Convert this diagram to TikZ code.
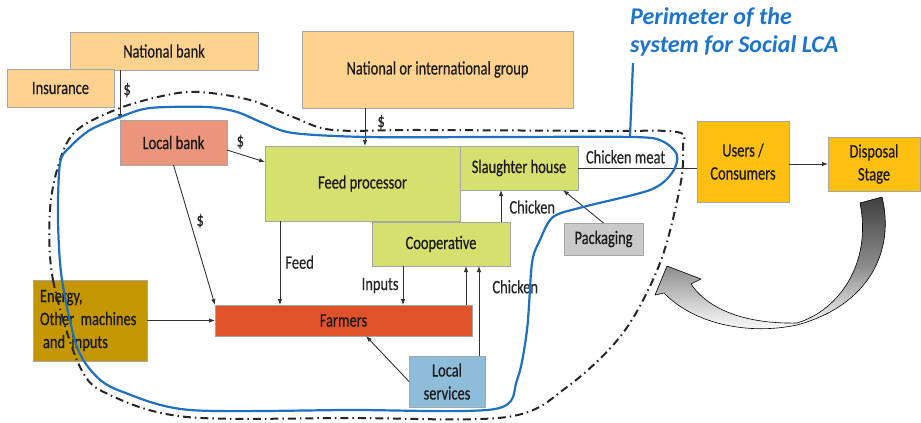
\documentclass[tikz,border=0pt]{standalone}
\usepackage{fontspec}
\setmainfont{Carlito}[FakeStretch=0.76, FakeBold=0.4]
\newfontfamily\titlefont{Carlito}
\usetikzlibrary{positioning,arrows.meta}

\definecolor{bankorange}{HTML}{FDD28F}
\definecolor{banksalmon}{HTML}{EA957C}
\definecolor{procgreen}{HTML}{D5E16F}
\definecolor{farmred}{HTML}{E0532A}
\definecolor{energygold}{HTML}{C49600}
\definecolor{servblue}{HTML}{8FBCD9}
\definecolor{packgray}{HTML}{C9C9C9}
\definecolor{userorange}{HTML}{FDC010}
\definecolor{perimblue}{HTML}{1F70C1}
\definecolor{titleblue}{HTML}{1C75CC}

\pgfdeclareverticalshading{recycle}{100bp}{color(0bp)=(white); color(25bp)=(white);
  color(32bp)=(black!10); color(50bp)=(black!45); color(75bp)=(black!75); color(100bp)=(black!75)}

\begin{document}
\begin{tikzpicture}[x=1pt, y=-1pt,
    font=\fontsize{19}{23}\selectfont,
     box/.style = {draw=gray!70, line width=0.8pt, align=center,
                   inner sep=2pt, outer sep=0pt, text=black!90},
     lbl/.style = {inner sep=2pt, text=black!85},
   arrow/.style = {line width=0.9pt, draw=black!80,
                   -{Latex[length=6pt,width=4.5pt]}},
    link/.style = {line width=0.9pt, draw=black!80},
   perim/.style = {line width=2.2pt, draw=perimblue},
  border/.style = {line width=2pt, draw=black!85,
                   dash pattern=on 8pt off 4pt on 1.5pt off 4pt},
bigarrow/.style = {draw=black, line width=0.6pt, shading=recycle}
                    ]
\useasboundingbox (0,0) rectangle (921,423);
% the nodes at the top
\node (natbank) [box, fill=bankorange, minimum width=188pt, minimum height=38pt]
      at (164,51) {National bank};
\node (insur) [box, fill=bankorange, minimum width=107pt, minimum height=38pt]
      at (60.5,88) {Insurance};
\node (natgroup) [box, fill=bankorange, minimum width=271pt, minimum height=77pt]
      at (437.5,69.5) {National or international group};
% the nodes inside the perimeter
\node (localbank) [box, fill=banksalmon, minimum width=107pt, minimum height=45pt]
      at (173.5,142.5) {Local bank};
\node (feedproc) [box, fill=procgreen, minimum width=195pt, minimum height=75pt]
      at (362.5,183.5) {Feed processor};
\node (slaughter) [box, fill=procgreen, minimum width=118pt, minimum height=44pt,
      below right=0pt and 0pt of feedproc.north east] {Slaughter house};
\node (coop) [box, fill=procgreen, minimum width=138pt, minimum height=44pt,
      below right=1pt and 107pt of feedproc.south west] {Cooperative};
\node (farmers) [box, fill=farmred, minimum width=257pt, minimum height=31pt]
      at (343.5,320.5) {Farmers};
\node (energy) [box, fill=energygold, minimum width=114pt, minimum height=81pt,
      text width=100pt, align=left] at (90,320.5)
                {Energy,\\Other machines\\\hspace{3pt}and inputs};
\node (localserv) [box, fill=servblue, minimum width=76pt, minimum height=51pt]
      at (447,381.5) {Local\\services};
\node (packaging) [box, fill=packgray, minimum width=79pt, minimum height=32pt]
      at (603.5,239) {Packaging};
% the nodes to the right
\node (users) [box, fill=userorange, minimum width=92pt, minimum height=81pt]
      at (743,161.5) {Users /\\Consumers};
\node (disposal) [box, fill=userorange, minimum width=92pt, minimum height=54pt]
      at (874,164) {Disposal\\Stage};
% the flows
\draw[arrow] ([xshift=50pt]natbank.south west) coordinate (nb)
             -- node[lbl, right=1pt, pos=0.4] {\$} (nb |- localbank.north);
\draw[arrow] ([yshift=-7.5pt]localbank.east)
             -- node[lbl, above=3pt, pos=0.35] {\$} ([yshift=21.5pt]feedproc.west);
\draw[arrow] (localbank.south)
             -- node[lbl, right=4pt, pos=0.4] {\$} (farmers.north west);
\draw[arrow] ([xshift=-72.5pt]natgroup.south) coordinate (ng)
             -- node[lbl, right=10pt, pos=0.37] {\$} (ng |- feedproc.north);
\draw[arrow] ([xshift=15pt]feedproc.south west) coordinate (fp)
             -- node[lbl, right=3pt, pos=0.49] {Feed} (fp |- farmers.north);
\draw[arrow] ([xshift=31pt]coop.south west) coordinate (cp)
             -- node[lbl, left=2pt, pos=0.5] {Inputs} (cp |- farmers.north);
\draw[arrow] ([xshift=-6pt]farmers.north east) coordinate (fm)
             -- (fm |- coop.south);
\draw[arrow] ([xshift=-6pt]localserv.north east) coordinate (ls)
             -- node[lbl, right=11pt, pos=0.77] {Chicken} (ls |- coop.south);
\draw[arrow] ([xshift=-9pt]coop.north east) coordinate (ck)
             -- node[lbl, right=6pt, pos=0.47] {Chicken} (ck |- slaughter.south);
\draw[arrow] (packaging.north) -- ([xshift=-15pt]slaughter.south east);
\draw[arrow] (localserv.west) -- ([xshift=22.5pt]farmers.south);
\draw[arrow] (energy.east) -- (farmers.west);
\draw[link] (slaughter.east)
             -- node[lbl, above=2pt, pos=0.4] {Chicken meat} (slaughter.east -| users.west);
\draw[arrow] (disposal.west -| users.east) -- (disposal.west);
% the two perimeters
\draw[border] plot[smooth cycle, tension=0.55] coordinates {
    (50,210) (53,280) (80,367) (110,395) (187,417) (350,418) (507,417)
    (567,387) (623,333) (660,263) (680,187) (683,147) (677,132) (600,131)
    (420,130) (333,130) (293,117) (250,100) (200,92) (167,95) (120,108)
    (77,130) (60,160)};
\draw[perim] plot[smooth cycle, tension=0.5] coordinates {
    (58,220) (60,163) (70,147) (90,130) (120,117) (150,108) (207,107)
    (237,112) (263,123) (293,133) (367,137) (500,137) (633,137) (662,141)
    (677,155) (672,173) (650,190) (583,207) (553,217) (540,240) (532,263)
    (527,330) (517,380) (495,409) (350,410) (190,410) (123,392) (97,377)
    (77,347) (62,280)};
% the title and its leader
\node (title) [anchor=north west, align=left, inner sep=0pt, text=titleblue,
      font=\titlefont\fontsize{24}{28}\selectfont\bfseries\itshape]
      at (630,7) {Perimeter of the\\system for Social LCA};
\coordinate (tip) at (630,136);
\draw[perim] ([xshift=3pt,yshift=-7pt]title.south west) -- (tip);
% the recycling arrow
\path[bigarrow] (882,197) .. controls (895,250) and (870,305) .. (797,325)
      .. controls (750,335) and (695,325) .. (664,293)
      -- (655,295) -- (667,266) -- (701,279) -- (691,284)
      .. controls (710,312) and (750,324) .. (797,323)
      .. controls (840,310) and (872,262) .. (860,203) -- cycle;
\end{tikzpicture}
\end{document}
